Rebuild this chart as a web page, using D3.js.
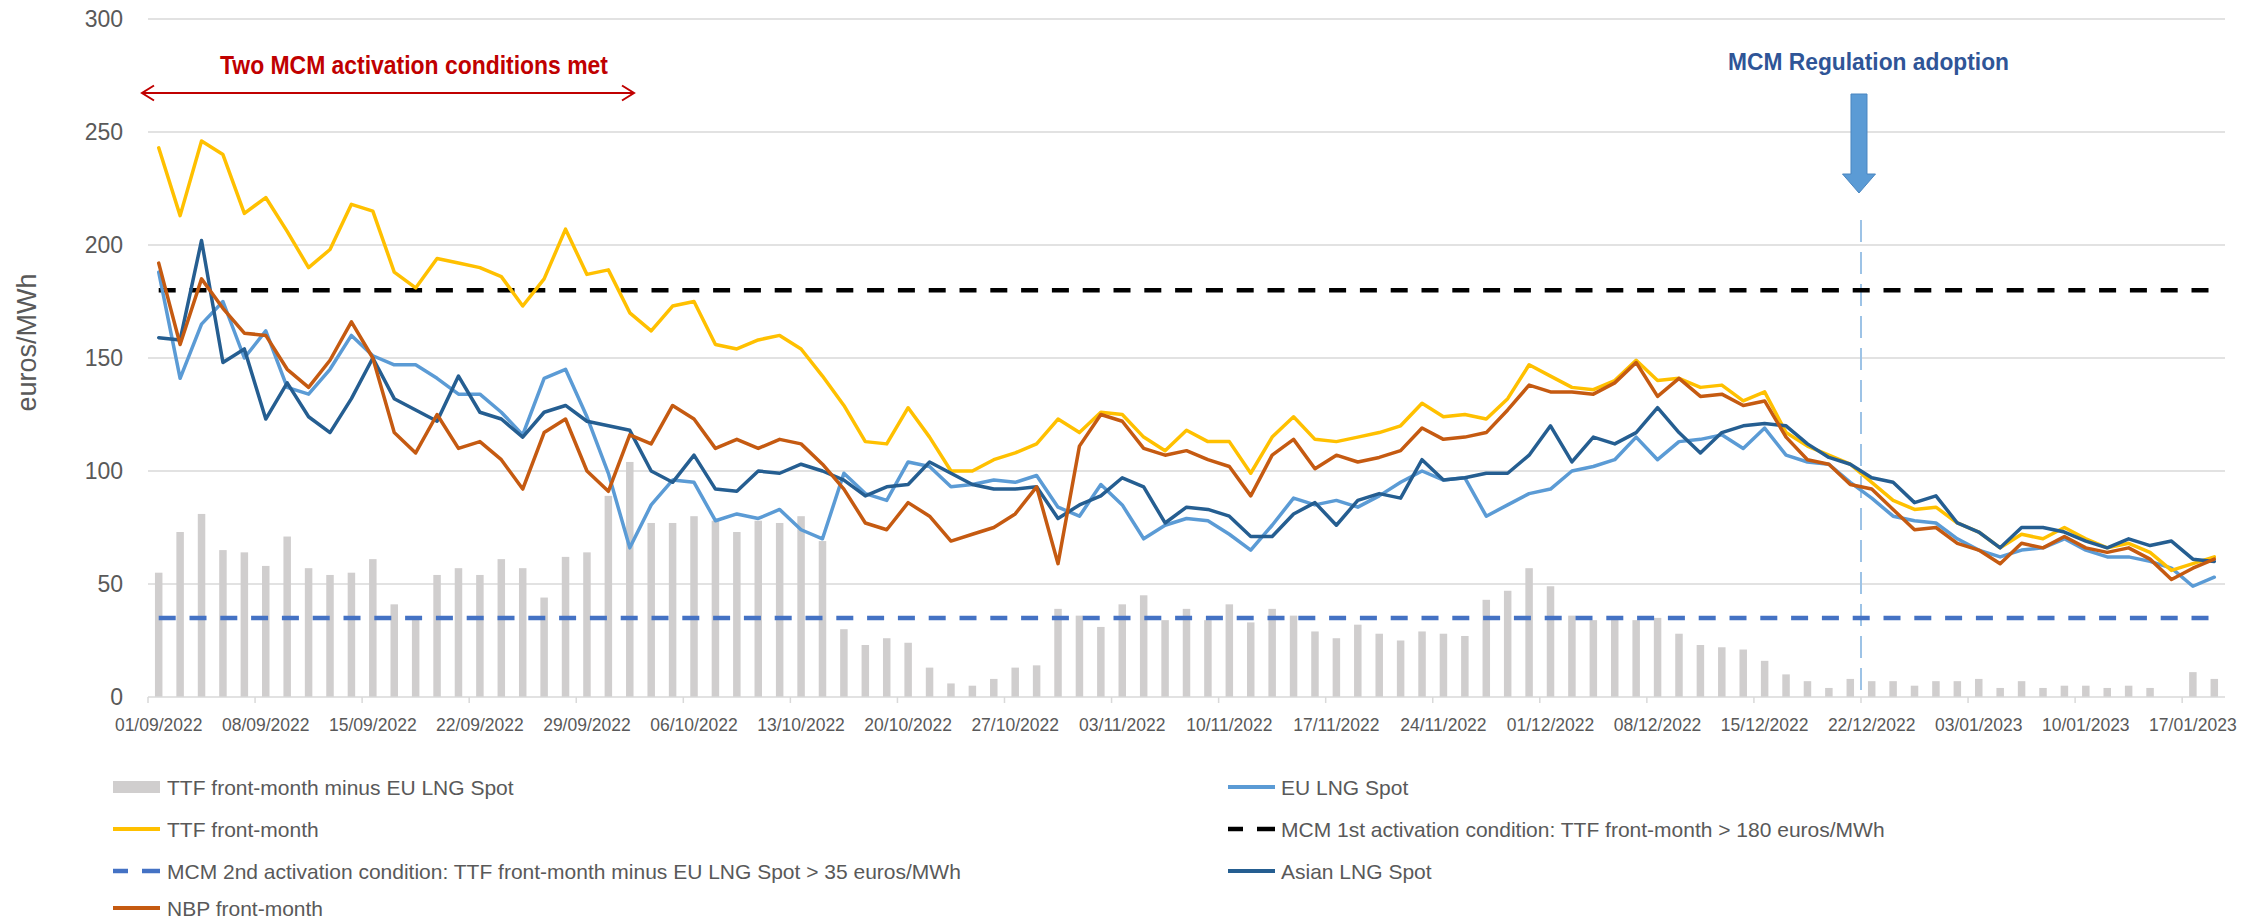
<!DOCTYPE html>
<html><head><meta charset="utf-8">
<script src="https://cdn.jsdelivr.net/npm/d3@7/dist/d3.min.js"></script>
<style>
html,body{margin:0;padding:0;background:#fff;}
svg{display:block;}
text{font-family:"Liberation Sans",Arial,sans-serif;}
</style>
</head><body>
<svg id="chart" width="2262" height="924"></svg>
<script>
// ---------- DATA ----------
const categories = [
"01/09/2022","02/09/2022","05/09/2022","06/09/2022","07/09/2022","08/09/2022","09/09/2022","12/09/2022","13/09/2022","14/09/2022",
"15/09/2022","16/09/2022","19/09/2022","20/09/2022","21/09/2022","22/09/2022","23/09/2022","26/09/2022","27/09/2022","28/09/2022",
"29/09/2022","30/09/2022","03/10/2022","04/10/2022","05/10/2022","06/10/2022","07/10/2022","10/10/2022","11/10/2022","12/10/2022",
"13/10/2022","14/10/2022","17/10/2022","18/10/2022","19/10/2022","20/10/2022","21/10/2022","24/10/2022","25/10/2022","26/10/2022",
"27/10/2022","28/10/2022","31/10/2022","01/11/2022","02/11/2022","03/11/2022","04/11/2022","07/11/2022","08/11/2022","09/11/2022",
"10/11/2022","11/11/2022","14/11/2022","15/11/2022","16/11/2022","17/11/2022","18/11/2022","21/11/2022","22/11/2022","23/11/2022",
"24/11/2022","25/11/2022","28/11/2022","29/11/2022","30/11/2022","01/12/2022","02/12/2022","05/12/2022","06/12/2022","07/12/2022",
"08/12/2022","09/12/2022","12/12/2022","13/12/2022","14/12/2022","15/12/2022","16/12/2022","19/12/2022","20/12/2022","21/12/2022",
"22/12/2022","23/12/2022","28/12/2022","29/12/2022","30/12/2022","03/01/2023","04/01/2023","05/01/2023","06/01/2023","09/01/2023",
"10/01/2023","11/01/2023","12/01/2023","13/01/2023","16/01/2023","17/01/2023","18/01/2023"
];

const tickLabels = ["01/09/2022","08/09/2022","15/09/2022","22/09/2022","29/09/2022","06/10/2022","13/10/2022","20/10/2022",
"27/10/2022","03/11/2022","10/11/2022","17/11/2022","24/11/2022","01/12/2022","08/12/2022","15/12/2022","22/12/2022",
"03/01/2023","10/01/2023","17/01/2023"];

const yTicks = [0, 50, 100, 150, 200, 250, 300];

// TTF front-month minus EU LNG Spot (bars)
const spread = [55,73,81,65,64,58,71,57,54,55, 61,41,35,54,57,54,61,57,44,62,
  64,89,104,77,77,80,78,73,78,77, 80,69,30,23,26,24,13,6,5,8,
  13,14,39,36,31,41,45,34,39,34, 41,33,39,36,29,26,32,28,25,29,
  28,27,43,47,57,49,36,34,35,34, 35,28,23,22,21,16,10,7,4,8,
  7,7,5,7,7,8,4,7,4,5, 5,4,5,4,0,11,8];

const ttf = [243,213,246,240,214,221,206,190,198,218, 215,188,181,194,192,190,186,173,185,207,
  187,189,170,162,173,175,156,154,158,160, 154,142,129,113,112,128,115,100,100,105,
  108,112,123,117,126,125,115,109,118,113, 113,99,115,124,114,113,115,117,120,130,
  124,125,123,132,147,142,137,136,140,149, 140,141,137,138,131,135,117,111,107,103,
  95,87,83,84,77,73,66,72,70,75, 70,66,68,64,56,59,62];

const euLng = [188,141,165,175,150,162,137,134,145,160, 151,147,147,141,134,134,126,116,141,145,
  124,99,66,85,96,95,78,81,79,83, 74,70,99,90,87,104,102,93,94,96,
  95,98,84,80,94,85,70,76,79,78, 72,65,76,88,85,87,84,89,95,100,
  96,97,80,85,90,92,100,102,105,115, 105,113,114,116,110,119,107,104,103,95,
  88,80,78,77,70,65,62,65,66,70, 65,62,62,60,57,49,53];

const asianLng = [159,158,202,148,154,123,139,124,117,132, 150,132,127,122,142,126,123,115,126,129,
  122,120,118,100,95,107,92,91,100,99, 103,100,96,89,93,94,104,99,94,92,
  92,93,79,85,89,97,93,77,84,83, 80,71,71,81,86,76,87,90,88,105,
  96,97,99,99,107,120,104,115,112,117, 128,117,108,117,120,121,120,112,106,103,
  97,95,86,89,77,73,66,75,75,73, 69,66,70,67,69,61,60];

const nbp = [192,156,185,172,161,160,145,137,149,166, 150,117,108,125,110,113,105,92,117,123,
  100,91,116,112,129,123,110,114,110,114, 112,103,92,77,74,86,80,69,72,75,
  81,93,59,111,125,122,110,107,109,105, 102,89,107,114,101,107,104,106,109,119,
  114,115,117,127,138,135,135,134,139,148, 133,141,133,134,129,131,115,105,103,94,
  92,83,74,75,68,65,59,68,66,71, 66,64,66,61,52,57,61];

const mcm1Threshold = 180;
const mcm2Threshold = 35;
const adoptionDate = "22/12/2022";

const lineSeries = [
  {name: "EU LNG Spot", values: euLng, color: "#5B9BD5"},
  {name: "TTF front-month", values: ttf, color: "#FFC000"},
  {name: "Asian LNG Spot", values: asianLng, color: "#255E91"},
  {name: "NBP front-month", values: nbp, color: "#C55A11"}
];

const legendItems = [
  {label: "TTF front-month minus EU LNG  Spot", kind: "bar", color: "#D0CECE", col: 0, row: 0},
  {label: "EU LNG Spot", kind: "line", color: "#5B9BD5", col: 1, row: 0},
  {label: "TTF front-month", kind: "line", color: "#FFC000", col: 0, row: 1},
  {label: "MCM 1st activation condition: TTF front-month > 180 euros/MWh", kind: "dash", color: "#000000", col: 1, row: 1},
  {label: "MCM 2nd activation condition: TTF front-month minus EU LNG Spot > 35 euros/MWh", kind: "dash", color: "#4472C4", col: 0, row: 2},
  {label: "Asian LNG Spot", kind: "line", color: "#255E91", col: 1, row: 2},
  {label: "NBP front-month", kind: "line", color: "#C55A11", col: 0, row: 3}
];

// ---------- LAYOUT ----------
const svg = d3.select("#chart");
svg.append("rect").attr("width", 2262).attr("height", 924).attr("fill", "#fff");

const plot = {left: 148, right: 2225, top: 19, bottom: 697};
const x = d3.scaleBand().domain(categories).range([plot.left, plot.right]).padding(0);
const y = d3.scaleLinear().domain([0, 300]).range([plot.bottom, plot.top]);
const bw = x.bandwidth();
const cx = c => x(c) + bw / 2;

const textCol = "#595959";

// gridlines
svg.append("g").selectAll("line").data(yTicks.filter(t => t > 0)).join("line")
  .attr("x1", plot.left).attr("x2", plot.right)
  .attr("y1", d => y(d)).attr("y2", d => y(d))
  .attr("stroke", "#D9D9D9").attr("stroke-width", 1.5);

// y tick labels
svg.append("g").selectAll("text").data(yTicks).join("text")
  .attr("x", 123).attr("y", d => y(d)).attr("dy", "0.36em")
  .attr("text-anchor", "end").attr("font-size", 23).attr("fill", textCol)
  .text(d => d);

// y axis title
svg.append("text")
  .attr("transform", `translate(36,${(263 + 422) / 2}) rotate(-90)`)
  .attr("text-anchor", "middle").attr("font-size", 27).attr("fill", textCol)
  .text("euros/MWh");

// bars
const barW = bw * 0.35;
svg.append("g").selectAll("rect").data(spread).join("rect")
  .attr("x", (d, i) => cx(categories[i]) - barW / 2)
  .attr("width", barW)
  .attr("y", d => y(Math.max(d, 0)))
  .attr("height", d => Math.abs(y(0) - y(d)))
  .attr("fill", "#D0CECE");

// x axis line and ticks
svg.append("line").attr("x1", plot.left).attr("x2", plot.right)
  .attr("y1", y(0)).attr("y2", y(0)).attr("stroke", "#D9D9D9").attr("stroke-width", 1.5);
svg.append("g").selectAll("line").data(tickLabels).join("line")
  .attr("x1", d => x(d)).attr("x2", d => x(d))
  .attr("y1", y(0)).attr("y2", y(0) + 6)
  .attr("stroke", "#D9D9D9").attr("stroke-width", 1.5);
svg.append("g").selectAll("text").data(tickLabels).join("text")
  .attr("x", d => cx(d)).attr("y", 731)
  .attr("text-anchor", "middle").attr("font-size", 17.5).attr("fill", textCol)
  .text(d => d);

// adoption vertical dashed line
const adoptX = x(adoptionDate);
svg.append("line").attr("x1", adoptX).attr("x2", adoptX)
  .attr("y1", 220).attr("y2", y(0))
  .attr("stroke", "#9DC3E6").attr("stroke-width", 2).attr("stroke-dasharray", "22,10");

// threshold dashed lines
const first = categories[0], last = categories[categories.length - 1];
[[mcm1Threshold, "#000000"], [mcm2Threshold, "#4472C4"]].forEach(([v, c]) => {
  svg.append("line").attr("x1", cx(first)).attr("x2", cx(last))
    .attr("y1", y(v)).attr("y2", y(v))
    .attr("stroke", c).attr("stroke-width", 4.5).attr("stroke-dasharray", "17,13.8");
});

// series lines (Excel order: EU, TTF, [thresholds], Asian, NBP)
const lineGen = d3.line().x((d, i) => cx(categories[i])).y(d => y(d));
lineSeries.forEach(s => {
  svg.append("path").datum(s.values)
    .attr("d", lineGen).attr("fill", "none")
    .attr("stroke", s.color).attr("stroke-width", 3.5)
    .attr("stroke-linejoin", "round").attr("stroke-linecap", "round");
});

// ---------- ANNOTATIONS ----------
const red = "#C00000";
svg.append("text").attr("x", 220).attr("y", 74)
  .attr("font-size", 26).attr("font-weight", "bold").attr("fill", red)
  .attr("textLength", 388).attr("lengthAdjust", "spacingAndGlyphs")
  .text("Two MCM activation conditions met");
const ay = 93, ax0 = 142, ax1 = 634;
svg.append("line").attr("x1", ax0).attr("x2", ax1).attr("y1", ay).attr("y2", ay)
  .attr("stroke", red).attr("stroke-width", 2);
svg.append("path").attr("d", `M${ax0 + 12},${ay - 7.5}L${ax0},${ay}L${ax0 + 12},${ay + 7.5}`)
  .attr("fill", "none").attr("stroke", red).attr("stroke-width", 2);
svg.append("path").attr("d", `M${ax1 - 12},${ay - 7.5}L${ax1},${ay}L${ax1 - 12},${ay + 7.5}`)
  .attr("fill", "none").attr("stroke", red).attr("stroke-width", 2);

svg.append("text").attr("x", 1728).attr("y", 70)
  .attr("font-size", 24).attr("font-weight", "bold").attr("fill", "#2F5597")
  .attr("textLength", 281).attr("lengthAdjust", "spacingAndGlyphs")
  .text("MCM Regulation adoption");
const bx = adoptX - 2;
svg.append("path")
  .attr("d", `M${bx - 8},94 L${bx + 8},94 L${bx + 8},174 L${bx + 16.5},174 L${bx},193 L${bx - 16.5},174 L${bx - 8},174 Z`)
  .attr("fill", "#5B9BD5").attr("stroke", "#4A86C0").attr("stroke-width", 1);

// ---------- LEGEND ----------
const rowY = [787, 829, 871, 908];
const colX = [{s0: 113, s1: 160, t: 167}, {s0: 1228, s1: 1275, t: 1281}];
const lg = svg.append("g");
legendItems.forEach(it => {
  const c = colX[it.col], yy = rowY[it.row];
  if (it.kind === "bar") {
    lg.append("rect").attr("x", c.s0).attr("y", yy - 6).attr("width", c.s1 - c.s0).attr("height", 12).attr("fill", it.color);
  } else if (it.kind === "line") {
    lg.append("line").attr("x1", c.s0).attr("x2", c.s1).attr("y1", yy).attr("y2", yy)
      .attr("stroke", it.color).attr("stroke-width", 4);
  } else {
    lg.append("line").attr("x1", c.s0).attr("x2", c.s0 + 15).attr("y1", yy).attr("y2", yy)
      .attr("stroke", it.color).attr("stroke-width", 4.5);
    lg.append("line").attr("x1", c.s1 - 18).attr("x2", c.s1).attr("y1", yy).attr("y2", yy)
      .attr("stroke", it.color).attr("stroke-width", 4.5);
  }
  lg.append("text").attr("x", c.t).attr("y", yy).attr("dy", "0.36em")
    .attr("font-size", 21).attr("fill", textCol).text(it.label);
});
</script>
</body></html>
